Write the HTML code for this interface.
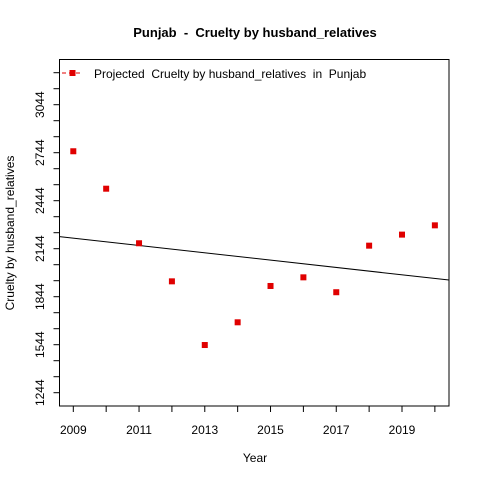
<!DOCTYPE html>
<html><head><meta charset="utf-8"><style>
body{margin:0;background:#fff;}
svg text{font-family:"Liberation Sans",Arial,sans-serif;fill:#000;white-space:pre;}
</style></head><body>
<svg id="chart" width="480" height="480" viewBox="0 0 480 480">
<rect width="480" height="480" fill="#fff"/>
<text x="255" y="37" text-anchor="middle" font-size="13" font-weight="bold">Punjab  -  Cruelty by husband_relatives</text>
<text x="255" y="462" text-anchor="middle" font-size="12">Year</text>
<text transform="translate(14,233) rotate(-90)" text-anchor="middle" font-size="12">Cruelty by husband_relatives</text>
<g id="plot"></g>
</svg>
<script>
const years=[2009,2010,2011,2012,2013,2014,2015,2016,2017,2018,2019,2020];
const values=[2753,2519,2178,1940,1542,1684,1911,1965,1872,2163,2232,2290];
const trendYears=[2009,2020];
const trendValues=[2210,1958];
const xTickLabels=[2009,2011,2013,2015,2017,2019];
const yTickLabels=[1244,1544,1844,2144,2444,2744,3044];
const ns="http://www.w3.org/2000/svg";
const L=59.5,T=59.5,R=449,B=406;
function x(v){return 73.3+(v-2009)*32.87;}
function y(v){return 104.7+(3044-v)*0.16;}
const g=document.getElementById('plot');
function mk(t,a){const e=document.createElementNS(ns,t);for(const k in a)e.setAttribute(k,a[k]);g.appendChild(e);return e;}
let e=mk('rect',{x:L,y:T,width:R-L,height:B-T,fill:'none',stroke:'#000','stroke-width':1});


for(let yr=2009;yr<=2020;yr++){
 e=mk('line',{x1:x(yr),x2:x(yr),y1:B,y2:B+6,stroke:'#000'});
 
 
}
xTickLabels.forEach(v=>{
 e=mk('text',{x:x(v),y:434,'text-anchor':'middle','font-size':12});e.textContent=v;
 
 
});
for(let v=1244;v<=3244;v+=100){
 e=mk('line',{x1:L-6,x2:L,y1:y(v),y2:y(v),stroke:'#000'});
 
 
}
yTickLabels.forEach(v=>{
 e=mk('text',{'text-anchor':'middle','font-size':12,transform:`translate(44,${y(v)}) rotate(-90)`});e.textContent=v;
 
 
});
const slope=(trendValues[1]-trendValues[0])/(trendYears[1]-trendYears[0]);
const yl=(px)=>{const yr=2009+(px-73.3)/32.87;return y(trendValues[0]+slope*(yr-trendYears[0]));};
e=mk('line',{x1:L,y1:yl(L),x2:R,y2:yl(R),stroke:'#000','stroke-width':1});


years.forEach((yr,i)=>{
 e=mk('rect',{x:x(yr)-3,y:y(values[i])-3,width:6,height:6,fill:'#e00000'});
 
 
});
e=mk('line',{x1:62,x2:83,y1:73,y2:73,stroke:'#e00000','stroke-dasharray':'4,3'});


e=mk('rect',{x:69.5,y:70,width:6,height:6,fill:'#e00000'});


e=mk('text',{x:94,y:78,'font-size':12});e.textContent='Projected  Cruelty by husband_relatives  in  Punjab';


</script>
</body></html>
